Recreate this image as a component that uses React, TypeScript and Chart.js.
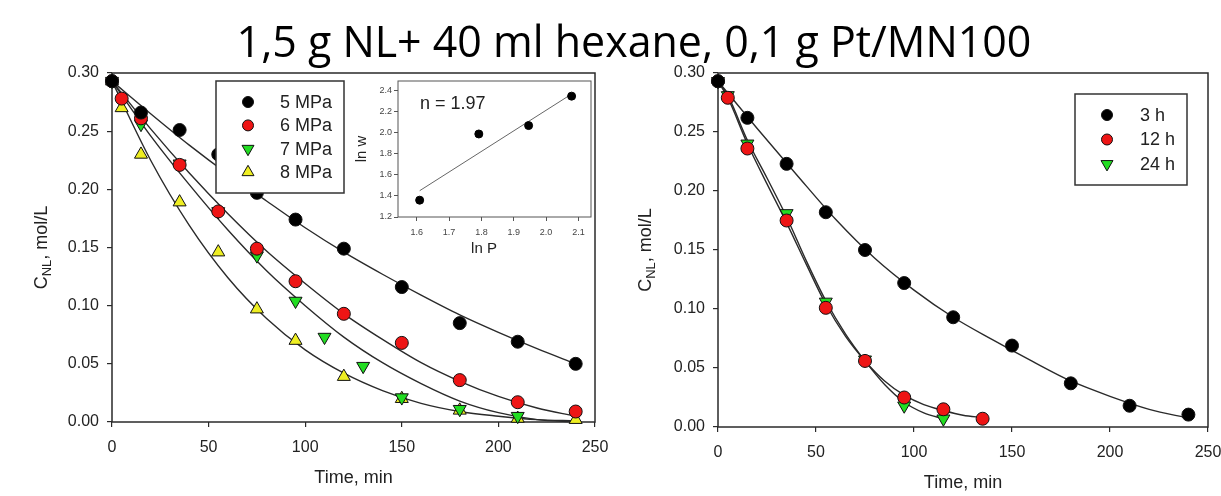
import React, { useEffect, useRef } from 'react';
import { Chart, registerables } from 'chart.js';

Chart.register(...registerables);

const TITLE = '1,5 g NL+ 40 ml hexane, 0,1 g Pt/MN100';

// ---------- Left panel: effect of pressure ----------
const pressureNames = ['5 MPa', '6 MPa', '7 MPa', '8 MPa'];
const time5 = [0, 15, 35, 55, 75, 95, 120, 150, 180, 210, 240];
const conc5 = [0.293, 0.266, 0.251, 0.23, 0.197, 0.174, 0.149, 0.116, 0.085, 0.069, 0.05];
const time6 = [0, 5, 15, 35, 55, 75, 95, 120, 150, 180, 210, 240];
const conc6 = [0.293, 0.278, 0.261, 0.221, 0.181, 0.149, 0.121, 0.093, 0.068, 0.036, 0.017, 0.009];
const time7 = [0, 15, 35, 55, 75, 95, 110, 130, 150, 180, 210];
const conc7 = [0.293, 0.256, 0.222, 0.181, 0.143, 0.104, 0.073, 0.048, 0.021, 0.011, 0.005];
const time8 = [0, 5, 15, 35, 55, 75, 95, 120, 150, 180, 210, 240];
const conc8 = [0.293, 0.27, 0.23, 0.189, 0.146, 0.097, 0.07, 0.039, 0.02, 0.01, 0.003, 0.002];

const fitTime = [0, 20, 40, 60, 80, 100, 120, 140, 160, 180, 200, 220, 240];
const fit5 = [0.293, 0.265, 0.238, 0.213, 0.19, 0.167, 0.146, 0.127, 0.109, 0.092, 0.077, 0.063, 0.05];
const fit6 = [0.293, 0.252, 0.214, 0.179, 0.147, 0.119, 0.093, 0.071, 0.051, 0.035, 0.022, 0.012, 0.005];
const fit7 = [0.293, 0.246, 0.204, 0.165, 0.13, 0.1, 0.073, 0.051, 0.033, 0.018, 0.008, 0.002, 0.0];
const fit8 = [0.293, 0.225, 0.169, 0.124, 0.089, 0.062, 0.042, 0.027, 0.016, 0.009, 0.005, 0.002, 0.001];

// ---------- Right panel: effect of pre-treatment time ----------
const durationNames = ['3 h', '12 h', '24 h'];
const time3h = [0, 15, 35, 55, 75, 95, 120, 150, 180, 210, 240];
const conc3h = [0.293, 0.262, 0.223, 0.182, 0.15, 0.122, 0.093, 0.069, 0.037, 0.018, 0.0105];
const time12h = [0, 5, 15, 35, 55, 75, 95, 115, 135];
const conc12h = [0.293, 0.279, 0.236, 0.175, 0.101, 0.056, 0.025, 0.015, 0.007];
const time24h = [0, 5, 15, 35, 55, 75, 95, 115];
const conc24h = [0.293, 0.281, 0.24, 0.181, 0.106, 0.057, 0.018, 0.007];

const fit3hTime = [0, 20, 40, 60, 80, 100, 120, 140, 160, 180, 200, 220, 240];
const fit3h = [0.293, 0.253, 0.214, 0.176, 0.143, 0.116, 0.093, 0.074, 0.056, 0.039, 0.026, 0.015, 0.0075];
const fit12hTime = [0, 5, 15, 25, 35, 45, 55, 65, 75, 85, 95, 105, 115, 125, 135];
const fit12h = [0.293, 0.279, 0.24, 0.206, 0.173, 0.138, 0.104, 0.077, 0.056, 0.039, 0.027, 0.019, 0.014, 0.01, 0.008];
const fit24hTime = [0, 5, 15, 25, 35, 45, 55, 65, 75, 85, 95, 105, 115];
const fit24h = [0.293, 0.281, 0.243, 0.211, 0.178, 0.141, 0.107, 0.079, 0.056, 0.036, 0.021, 0.012, 0.007];

// ---------- Inset: ln w vs ln P ----------
const lnP = [1.609, 1.792, 1.946, 2.079];
const lnW = [1.36, 1.99, 2.07, 2.35];
const lnPFit = [1.609, 2.079];
const lnWFit = [1.45, 2.37];
const orderLabel = 'n = 1.97';

// ---------- Tick values ----------
const timeTicks = [0, 50, 100, 150, 200, 250];
const concTicks = [0, 0.05, 0.1, 0.15, 0.2, 0.25, 0.3];
const lnPTicks = [1.6, 1.7, 1.8, 1.9, 2.0, 2.1];
const lnWTicks = [1.2, 1.4, 1.6, 1.8, 2.0, 2.2, 2.4];

const FONT = '"Liberation Sans", Arial, sans-serif';
const INK = '#222222';
const LINE = '#2a2a2a';

type Marker = { shape: 'circle' | 'up' | 'down'; fill: string };
const MARKERS: Marker[] = [
  { shape: 'circle', fill: '#000000' },
  { shape: 'circle', fill: '#ee1515' },
  { shape: 'down', fill: '#22dd22' },
  { shape: 'up', fill: '#eeee22' },
];

const pts = (xs: number[], ys: number[]) => xs.map((x, i) => ({ x, y: ys[i] }));

function pointDataset(xs: number[], ys: number[], m: Marker, label: string) {
  const tri = m.shape !== 'circle';
  return {
    label,
    data: pts(xs, ys),
    showLine: false,
    pointStyle: tri ? 'triangle' : 'circle',
    rotation: m.shape === 'down' ? 180 : 0,
    pointRadius: tri ? 7.5 : 6.5,
    pointBackgroundColor: m.fill,
    pointBorderColor: '#111111',
    pointBorderWidth: 1,
    clip: false,
  };
}

function fitDataset(xs: number[], ys: number[]) {
  return {
    label: 'fit',
    data: pts(xs, ys),
    showLine: true,
    pointRadius: 0,
    borderColor: LINE,
    borderWidth: 1.4,
    cubicInterpolationMode: 'monotone',
    fill: false,
    clip: false,
  };
}

function drawMarker(ctx: CanvasRenderingContext2D, m: Marker, x: number, y: number, r: number) {
  ctx.save();
  ctx.fillStyle = m.fill;
  ctx.strokeStyle = '#111111';
  ctx.lineWidth = 1;
  ctx.beginPath();
  if (m.shape === 'circle') {
    ctx.arc(x, y, r, 0, Math.PI * 2);
  } else {
    const s = m.shape === 'up' ? -1 : 1;
    const R = r * 1.15;
    ctx.moveTo(x, y + s * R);
    ctx.lineTo(x - R * 0.866, y - s * R * 0.5);
    ctx.lineTo(x + R * 0.866, y - s * R * 0.5);
    ctx.closePath();
  }
  ctx.fill();
  ctx.stroke();
  ctx.restore();
}

type LegendSpec = {
  names: string[];
  x: number; y: number; w: number; h: number;
  rowStart: number; rowGap: number; markerX: number; textX: number;
};

function framePlugin(lw: number, color: string) {
  return {
    id: 'frame',
    beforeDatasetsDraw(chart: any) {
      const { ctx, chartArea: a } = chart;
      ctx.save();
      ctx.strokeStyle = color;
      ctx.lineWidth = lw;
      ctx.strokeRect(a.left, a.top, a.right - a.left, a.bottom - a.top);
      ctx.restore();
    },
  };
}

function decorPlugin(legend: LegendSpec, yTitleOffset: number) {
  return {
    id: 'decor',
    afterDraw(chart: any) {
      const { ctx, chartArea: a } = chart;
      ctx.save();
      ctx.fillStyle = INK;
      ctx.font = `18px ${FONT}`;
      ctx.textAlign = 'center';
      ctx.textBaseline = 'middle';
      ctx.fillText('Time, min', (a.left + a.right) / 2, a.bottom + 56);
      ctx.restore();

      // rotated y title with subscript
      ctx.save();
      ctx.fillStyle = INK;
      ctx.translate(a.left - yTitleOffset, (a.top + a.bottom) / 2);
      ctx.rotate(-Math.PI / 2);
      ctx.textAlign = 'left';
      ctx.textBaseline = 'alphabetic';
      const big = `18px ${FONT}`;
      const small = `13px ${FONT}`;
      ctx.font = big;
      const wC = ctx.measureText('C').width;
      const wRest = ctx.measureText(', mol/L').width;
      ctx.font = small;
      const wSub = ctx.measureText('NL').width;
      let x = -(wC + wSub + wRest) / 2;
      const base = 6.5;
      ctx.font = big;
      ctx.fillText('C', x, base);
      x += wC;
      ctx.font = small;
      ctx.fillText('NL', x, base + 4);
      x += wSub;
      ctx.font = big;
      ctx.fillText(', mol/L', x, base);
      ctx.restore();

      // legend box
      const bx = a.left + legend.x;
      const by = a.top + legend.y;
      ctx.save();
      ctx.fillStyle = '#ffffff';
      ctx.fillRect(bx, by, legend.w, legend.h);
      ctx.strokeStyle = '#333333';
      ctx.lineWidth = 1.5;
      ctx.strokeRect(bx, by, legend.w, legend.h);
      ctx.font = `18px ${FONT}`;
      ctx.textAlign = 'left';
      ctx.textBaseline = 'middle';
      legend.names.forEach((name, i) => {
        const yy = by + legend.rowStart + i * legend.rowGap;
        drawMarker(ctx, MARKERS[i], bx + legend.markerX, yy, MARKERS[i].shape === 'circle' ? 5.5 : 6);
        ctx.fillStyle = INK;
        ctx.fillText(name, bx + legend.textX, yy + 1);
      });
      ctx.restore();
    },
  };
}

const noEdgePadding = (s: any) => {
  s.paddingLeft = 0;
  s.paddingRight = 0;
  s.paddingTop = 0;
  s.paddingBottom = 0;
};

function mainScales(yWidth: number, xHeight: number) {
  const grid = { display: true, drawOnChartArea: false, drawTicks: true, tickLength: 5, color: LINE, lineWidth: 1.2 };
  return {
    x: {
      type: 'linear',
      min: 0,
      max: 250,
      afterBuildTicks: (s: any) => { s.ticks = timeTicks.map((v) => ({ value: v })); },
      afterFit: (s: any) => { s.height = xHeight; noEdgePadding(s); },
      grid,
      border: { display: false },
      ticks: { font: { family: FONT, size: 16 }, color: INK, padding: 11, maxRotation: 0, autoSkip: false, callback: (v: any) => String(v) },
    },
    y: {
      type: 'linear',
      min: 0,
      max: 0.3,
      afterBuildTicks: (s: any) => { s.ticks = concTicks.map((v) => ({ value: v })); },
      afterFit: (s: any) => { s.width = yWidth; noEdgePadding(s); },
      grid,
      border: { display: false },
      ticks: { font: { family: FONT, size: 16 }, color: INK, padding: 8, autoSkip: false, callback: (v: any) => Number(v).toFixed(2) },
    },
  };
}

const commonOptions = {
  responsive: false,
  animation: false,
  events: [],
  plugins: { legend: { display: false }, tooltip: { enabled: false } },
};

export default function App() {
  const titleRef = useRef<HTMLCanvasElement>(null);
  const leftRef = useRef<HTMLCanvasElement>(null);
  const rightRef = useRef<HTMLCanvasElement>(null);
  const insetRef = useRef<HTMLCanvasElement>(null);

  useEffect(() => {
    const tc = titleRef.current!;
    const tctx = tc.getContext('2d')!;
    tctx.clearRect(0, 0, tc.width, tc.height);
    let size = 40;
    tctx.font = `${size}px "Open Sans"`;
    const w = tctx.measureText(TITLE).width;
    size = (size * 795) / w;
    tctx.font = `${size}px "Open Sans"`;
    tctx.fillStyle = '#000000';
    tctx.textAlign = 'center';
    tctx.textBaseline = 'alphabetic';
    tctx.fillText(TITLE, 634, 57);

    const left = new Chart(leftRef.current!, {
      type: 'scatter',
      data: {
        datasets: [
          pointDataset(time5, conc5, MARKERS[0], pressureNames[0]),
          pointDataset(time6, conc6, MARKERS[1], pressureNames[1]),
          pointDataset(time7, conc7, MARKERS[2], pressureNames[2]),
          pointDataset(time8, conc8, MARKERS[3], pressureNames[3]),
          fitDataset(fitTime, fit5),
          fitDataset(fitTime, fit6),
          fitDataset(fitTime, fit7),
          fitDataset(fitTime, fit8),
        ] as any,
      },
      options: {
        ...commonOptions,
        layout: { padding: { top: 13, right: 15, left: 0, bottom: 0 } },
        scales: mainScales(112, 74) as any,
      } as any,
      plugins: [
        framePlugin(1.5, LINE),
        decorPlugin({ names: pressureNames, x: 104, y: 8, w: 128, h: 112, rowStart: 21, rowGap: 23.4, markerX: 32, textX: 64 }, 72),
      ],
    });

    const right = new Chart(rightRef.current!, {
      type: 'scatter',
      data: {
        datasets: [
          pointDataset(time3h, conc3h, MARKERS[0], durationNames[0]),
          pointDataset(time12h, conc12h, MARKERS[1], durationNames[1]),
          pointDataset(time24h, conc24h, MARKERS[2], durationNames[2]),
          fitDataset(fit3hTime, fit3h),
          fitDataset(fit12hTime, fit12h),
          fitDataset(fit24hTime, fit24h),
        ] as any,
      },
      options: {
        ...commonOptions,
        layout: { padding: { top: 13, right: 13, left: 0, bottom: 0 } },
        scales: mainScales(108, 69) as any,
      } as any,
      plugins: [
        framePlugin(1.5, LINE),
        decorPlugin({ names: durationNames, x: 357, y: 21, w: 112, h: 91, rowStart: 21, rowGap: 24.5, markerX: 32, textX: 65 }, 74),
      ],
    });

    const insetGrid = { display: true, drawOnChartArea: false, drawTicks: true, tickLength: 4, color: '#555555', lineWidth: 1 };
    const inset = new Chart(insetRef.current!, {
      type: 'scatter',
      data: {
        datasets: [
          {
            label: 'ln w',
            data: pts(lnP, lnW),
            pointStyle: 'circle',
            pointRadius: 4,
            pointBackgroundColor: '#000000',
            pointBorderColor: '#000000',
            showLine: false,
            clip: false,
          },
          {
            label: 'fit',
            data: pts(lnPFit, lnWFit),
            showLine: true,
            pointRadius: 0,
            borderColor: '#666666',
            borderWidth: 1,
            clip: false,
          },
        ] as any,
      },
      options: {
        ...commonOptions,
        layout: { padding: { top: 4, right: 9, left: 0, bottom: 0 } },
        scales: {
          x: {
            type: 'linear',
            min: 1.542,
            max: 2.139,
            afterBuildTicks: (s: any) => { s.ticks = lnPTicks.map((v) => ({ value: v })); },
            afterFit: (s: any) => { s.height = 43; noEdgePadding(s); },
            grid: insetGrid,
            border: { display: false },
            ticks: { font: { family: FONT, size: 9 }, color: '#444444', padding: 6, maxRotation: 0, autoSkip: false, callback: (v: any) => Number(v).toFixed(1) },
          },
          y: {
            type: 'linear',
            min: 1.2,
            max: 2.494,
            afterBuildTicks: (s: any) => { s.ticks = lnWTicks.map((v) => ({ value: v })); },
            afterFit: (s: any) => { s.width = 48; noEdgePadding(s); },
            grid: insetGrid,
            border: { display: false },
            ticks: { font: { family: FONT, size: 9 }, color: '#444444', padding: 2, autoSkip: false, callback: (v: any) => Number(v).toFixed(1) },
          },
        },
      } as any,
      plugins: [
        framePlugin(1, '#555555'),
        {
          id: 'insetText',
          afterDraw(chart: any) {
            const { ctx, chartArea: a } = chart;
            ctx.save();
            ctx.fillStyle = INK;
            ctx.font = `18px ${FONT}`;
            ctx.textAlign = 'left';
            ctx.textBaseline = 'middle';
            ctx.fillText(orderLabel, a.left + 22, a.top + 23);
            ctx.font = `15px ${FONT}`;
            ctx.textAlign = 'center';
            ctx.fillText('ln P', a.left + 86, a.bottom + 32);
            ctx.translate(a.left - 36, (a.top + a.bottom) / 2);
            ctx.rotate(-Math.PI / 2);
            ctx.fillText('ln w', 0, 0);
            ctx.restore();
          },
        },
      ],
    });

    return () => {
      left.destroy();
      right.destroy();
      inset.destroy();
    };
  }, []);

  return (
    <div style={{ position: 'fixed', left: 0, top: 0, width: 1221, height: 496, background: '#ffffff', overflow: 'hidden' }}>
      <canvas ref={titleRef} width={1221} height={80} style={{ position: 'absolute', left: 0, top: 0 }} />
      <canvas ref={leftRef} width={610} height={436} style={{ position: 'absolute', left: 0, top: 60 }} />
      <canvas ref={rightRef} width={611} height={436} style={{ position: 'absolute', left: 610, top: 60 }} />
      <canvas ref={insetRef} width={250} height={184} style={{ position: 'absolute', left: 350, top: 76 }} />
    </div>
  );
}
